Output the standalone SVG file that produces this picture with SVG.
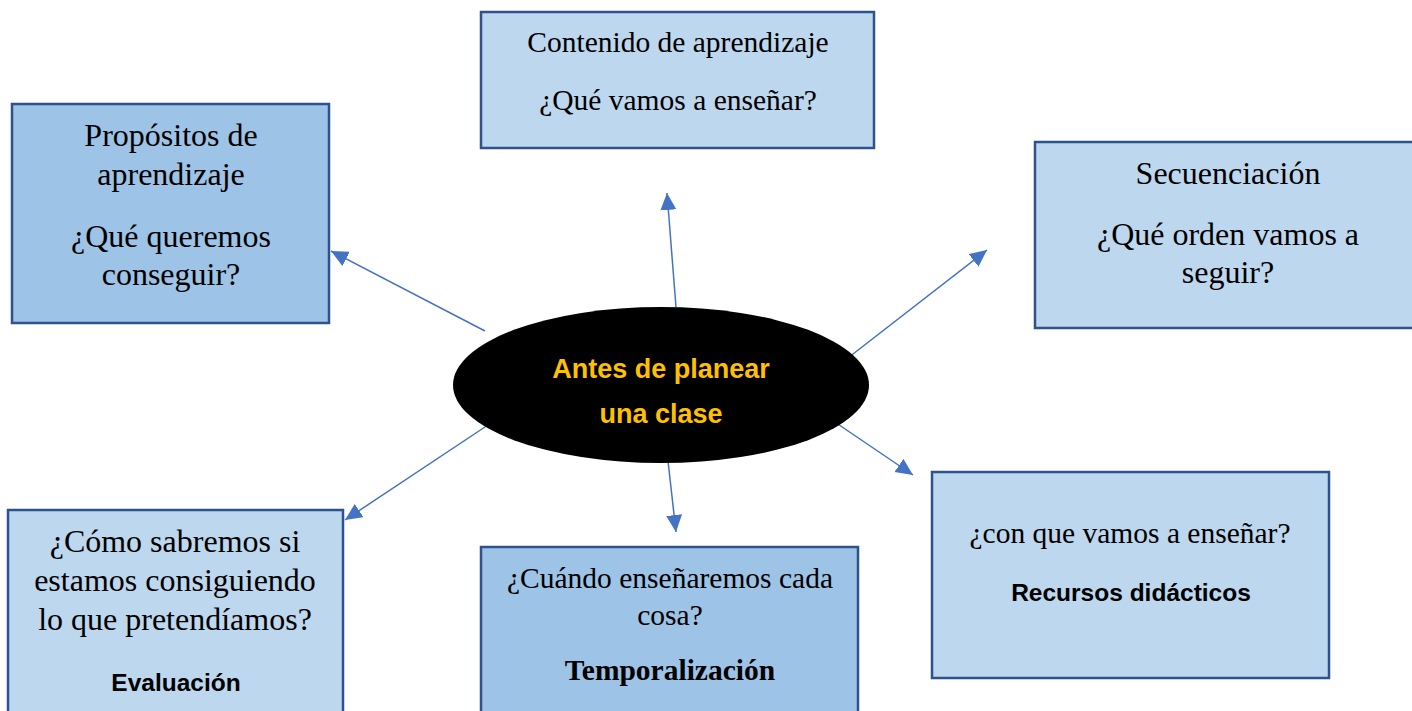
<svg xmlns="http://www.w3.org/2000/svg" width="1412" height="711" viewBox="0 0 1412 711">
  <style>
    .box { stroke: #2F528F; stroke-width: 2.5; }
    .dark { fill: #9DC3E6; }
    .light { fill: #BDD7EE; }
    .t { font-family: "Liberation Serif", "Times New Roman", serif; fill: #000; text-anchor: middle; }
    .s { font-family: "Liberation Sans", Arial, sans-serif; font-weight: bold; fill: #000; text-anchor: middle; font-size: 24.5px; }
    .conn { stroke: #4472C4; stroke-width: 1.5; fill: none; marker-end: url(#arrow); }
    .center { font-family: "Liberation Sans", Arial, sans-serif; font-weight: bold; fill: #FFC000; text-anchor: middle; font-size: 27px; }
  </style>
  <defs>
    <marker id="arrow" markerUnits="userSpaceOnUse" markerWidth="20" markerHeight="18" refX="17" refY="8" orient="auto">
      <path d="M0,0 L17,8 L0,16 z" fill="#4472C4"/>
    </marker>
  </defs>
  <rect width="1412" height="711" fill="#FFFFFF"/>

  <g id="connectors">
    <line class="conn" x1="485" y1="331" x2="331" y2="251"/>
    <line class="conn" x1="676" y1="307" x2="667" y2="193"/>
    <line class="conn" x1="844" y1="361" x2="987" y2="250"/>
    <line class="conn" x1="823" y1="414" x2="913" y2="475"/>
    <line class="conn" x1="668" y1="461" x2="676" y2="532"/>
    <line class="conn" x1="491" y1="423" x2="345" y2="520"/>
  </g>

  <g id="center-node">
    <ellipse cx="661" cy="385" rx="208" ry="78" fill="#000000"/>
    <text class="center" x="661" y="378">Antes de planear</text>
    <text class="center" x="661" y="423">una clase</text>
  </g>

  <g id="node-propositos">
    <rect class="box dark" x="12" y="104" width="317" height="219"/>
    <text class="t" font-size="32" x="171" y="146">Propósitos de</text>
    <text class="t" font-size="32" x="171" y="185">aprendizaje</text>
    <text class="t" font-size="32" x="171" y="247">¿Qué queremos</text>
    <text class="t" font-size="32" x="171" y="285">conseguir?</text>
  </g>

  <g id="node-contenido">
    <rect class="box light" x="481" y="12" width="393" height="136"/>
    <text class="t" font-size="29.5" x="678" y="52">Contenido de aprendizaje</text>
    <text class="t" font-size="29.5" x="678" y="110">¿Qué vamos a enseñar?</text>
  </g>

  <g id="node-secuenciacion">
    <rect class="box light" x="1035" y="142" width="386" height="186"/>
    <text class="t" font-size="32" x="1228" y="184">Secuenciación</text>
    <text class="t" font-size="32" x="1228" y="245">¿Qué orden vamos a</text>
    <text class="t" font-size="32" x="1228" y="283">seguir?</text>
  </g>

  <g id="node-evaluacion">
    <rect class="box light" x="8" y="510" width="335" height="215"/>
    <text class="t" font-size="32" x="175" y="552">¿Cómo sabremos si</text>
    <text class="t" font-size="32" x="175" y="591">estamos consiguiendo</text>
    <text class="t" font-size="32" x="175" y="630">lo que pretendíamos?</text>
    <text class="s" x="176" y="691">Evaluación</text>
  </g>

  <g id="node-temporalizacion">
    <rect class="box dark" x="481" y="547" width="377" height="180"/>
    <text class="t" font-size="29.5" x="670" y="588">¿Cuándo enseñaremos cada</text>
    <text class="t" font-size="29.5" x="670" y="625">cosa?</text>
    <text class="t" font-size="29.5" font-weight="bold" x="670" y="680">Temporalización</text>
  </g>

  <g id="node-recursos">
    <rect class="box light" x="932" y="472" width="397" height="206"/>
    <text class="t" font-size="29.5" x="1130" y="543">¿con que vamos a enseñar?</text>
    <text class="s" x="1131" y="601">Recursos didácticos</text>
  </g>
</svg>
